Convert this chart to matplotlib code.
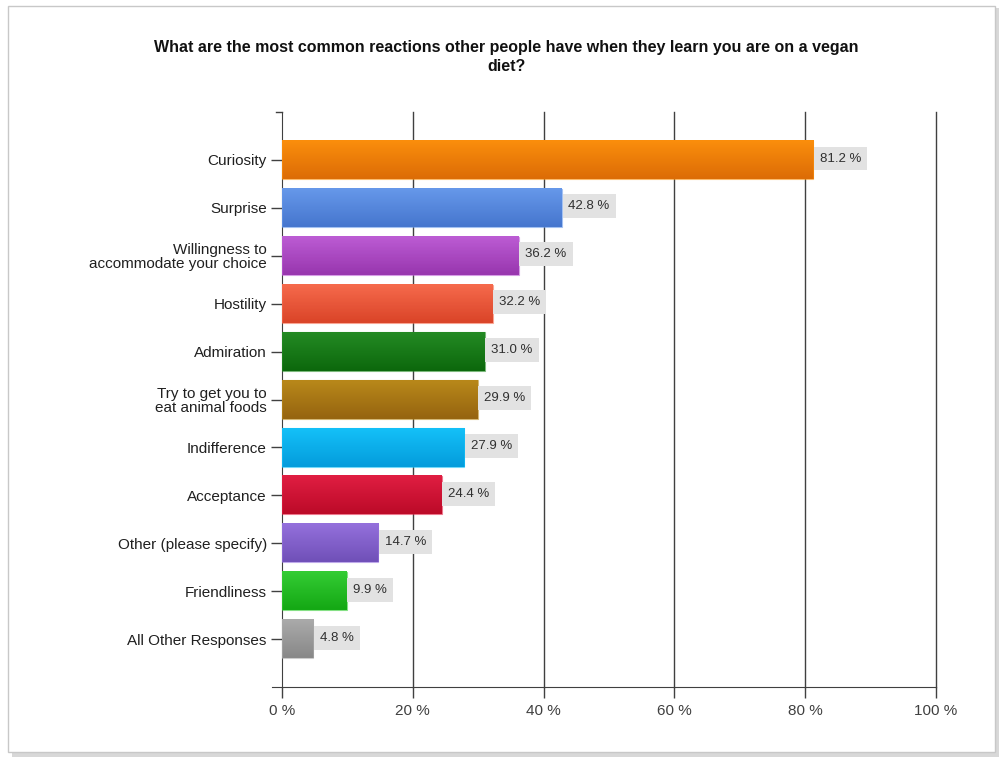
import matplotlib.pyplot as plt
import numpy as np
from matplotlib.colors import LinearSegmentedColormap
from matplotlib.patches import Rectangle

categories = [
    "Curiosity",
    "Surprise",
    "Willingness to\naccommodate your choice",
    "Hostility",
    "Admiration",
    "Try to get you to\neat animal foods",
    "Indifference",
    "Acceptance",
    "Other (please specify)",
    "Friendliness",
    "All Other Responses",
]
values = [81.2, 42.8, 36.2, 32.2, 31.0, 29.9, 27.9, 24.4, 14.7, 9.9, 4.8]
top_colors = ["#FB8E0C", "#6698EA", "#BC5CD4", "#F66A4C", "#248A24", "#B8881A",
              "#14C0F8", "#E01E42", "#9470DC", "#34CC34", "#AAAAAA"]
bottom_colors = ["#DC6C06", "#4676CE", "#9836AE", "#DA4428", "#0C680C", "#966410",
                 "#049CDC", "#BC0A28", "#7050B8", "#14A814", "#888888"]
xticks = [0, 20, 40, 60, 80, 100]
title = "What are the most common reactions other people have when they learn you are on a vegan\ndiet?"

plt.rcParams['font.family'] = ['Liberation Sans', 'DejaVu Sans']

fig = plt.figure(figsize=(10.03, 7.57), dpi=100)

# outer frame with shadow
fig.patches.append(Rectangle((0.012, 0.0), 0.984, 0.99, transform=fig.transFigure,
                             facecolor="#D8D8D8", edgecolor="none", zorder=-3))
fig.patches.append(Rectangle((0.008, 0.006), 0.984, 0.986, transform=fig.transFigure,
                             facecolor="white", edgecolor="#C8C8C8", linewidth=1, zorder=-2))

ax = fig.add_axes([0.2812, 0.0925, 0.652, 0.7595])
ax.set_facecolor("none")

ypos = np.arange(len(categories))
h = 0.8
for y, v, c1, c2 in zip(ypos, values, top_colors, bottom_colors):
    cmap = LinearSegmentedColormap.from_list("g", [c1, c2])
    grad = np.linspace(0, 1, 50).reshape(-1, 1)
    ax.imshow(grad, cmap=cmap, extent=[0, v, y + h / 2, y - h / 2],
              aspect="auto", zorder=3, interpolation="bilinear")
    ax.add_patch(Rectangle((0, y - h / 2), v, h, facecolor="none",
                           edgecolor=c1, linewidth=0.8, alpha=0.6, zorder=4))
    ax.text(v + 1.0, y - 0.03, f"{v:.1f} %", va="center", ha="left", fontsize=9.5,
            color="#303030", zorder=5,
            bbox=dict(boxstyle="square,pad=0.45", facecolor="#E2E2E2", edgecolor="none"))

ax.set_xlim(0, 100)
ax.set_ylim(11, -1)

for x in xticks[1:]:
    ax.axvline(x, color="#404040", linewidth=1.0, zorder=2, clip_on=False)

ax.set_xticks(xticks)
ax.set_xticklabels([f"{x} %" for x in xticks], fontsize=11, color="#404040")
ax.set_yticks(ypos)
ax.set_yticklabels(categories, fontsize=11, color="#202020", linespacing=1.0)
ax.tick_params(axis="both", length=8, width=1, color="#404040")
ax.tick_params(axis="x", pad=4)
ax.tick_params(axis="y", pad=3)

for s in ["top", "right"]:
    ax.spines[s].set_visible(False)
ax.spines["left"].set_color("#404040")
ax.spines["bottom"].set_color("#404040")
ax.spines["bottom"].set_bounds(-1.5, 100)
ax.plot([-1.0, 0], [-1, -1], color="#404040", linewidth=1, clip_on=False)

fig.text(0.505, 0.925, title, ha="center", va="center", fontsize=11.5,
         fontweight="bold", color="#111111", linespacing=1.35)

fig.savefig("out.png", dpi=100)
